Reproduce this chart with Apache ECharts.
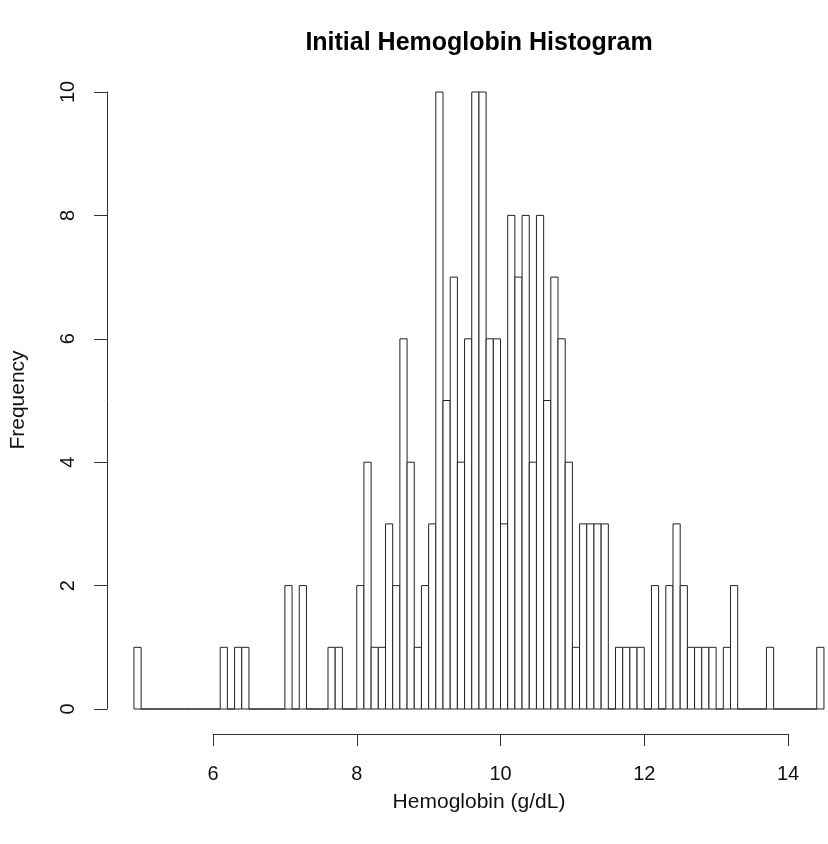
<!DOCTYPE html>
<html>
<head>
<meta charset="utf-8">
<script src="https://cdn.jsdelivr.net/npm/echarts@6/dist/echarts.min.js"></script>
<style>
  html, body { margin: 0; padding: 0; background: #fff; }
  #chart { width: 828px; height: 844px; }
</style>
</head>
<body>
<div id="chart"></div>
<script>
// Histogram bin lower edges (g/dL), each bin 0.1 wide
const binWidth = 0.1;
const binStarts = [
  4.9, 5.0, 5.1, 5.2, 5.3, 5.4, 5.5, 5.6, 5.7, 5.8, 5.9, 6.0,
  6.1, 6.2, 6.3, 6.4, 6.5, 6.6, 6.7, 6.8, 6.9, 7.0, 7.1, 7.2,
  7.3, 7.4, 7.5, 7.6, 7.7, 7.8, 7.9, 8.0, 8.1, 8.2, 8.3, 8.4,
  8.5, 8.6, 8.7, 8.8, 8.9, 9.0, 9.1, 9.2, 9.3, 9.4, 9.5, 9.6,
  9.7, 9.8, 9.9, 10.0, 10.1, 10.2, 10.3, 10.4, 10.5, 10.6, 10.7, 10.8,
  10.9, 11.0, 11.1, 11.2, 11.3, 11.4, 11.5, 11.6, 11.7, 11.8, 11.9, 12.0,
  12.1, 12.2, 12.3, 12.4, 12.5, 12.6, 12.7, 12.8, 12.9, 13.0, 13.1, 13.2,
  13.3, 13.4, 13.5, 13.6, 13.7, 13.8, 13.9, 14.0, 14.1, 14.2, 14.3, 14.4
];
// Frequency in each bin
const frequencies = [
  1, 0, 0, 0, 0, 0, 0, 0, 0, 0, 0, 0,
  1, 0, 1, 1, 0, 0, 0, 0, 0, 2, 0, 2,
  0, 0, 0, 1, 1, 0, 0, 2, 4, 1, 1, 3,
  2, 6, 4, 1, 2, 3, 10, 5, 7, 4, 6, 10,
  10, 6, 6, 3, 8, 7, 8, 4, 8, 5, 7, 6,
  4, 1, 3, 3, 3, 3, 0, 1, 1, 1, 1, 0,
  2, 0, 2, 3, 2, 1, 1, 1, 1, 0, 1, 2,
  0, 0, 0, 0, 1, 0, 0, 0, 0, 0, 0, 1
];
const xTicks = [6, 8, 10, 12, 14];
const yTicks = [0, 2, 4, 6, 8, 10];

const titleText = 'Initial Hemoglobin Histogram';
const xName = 'Hemoglobin (g/dL)';
const yName = 'Frequency';

const data = binStarts.map((s, i) => [s, +(s + binWidth).toFixed(1), frequencies[i]]);

const FONT = '"Liberation Sans", Arial, Helvetica, sans-serif';
const chart = echarts.init(document.getElementById('chart'), null, { renderer: 'canvas' });

chart.setOption({
  backgroundColor: '#ffffff',
  animation: false,
  grid: { left: 213, top: 92, width: 575, height: 617, containLabel: false },
  xAxis: {
    type: 'value',
    min: xTicks[0], max: xTicks[xTicks.length - 1], interval: 2,
    offset: 25,
    axisLine: { show: true, onZero: false, lineStyle: { color: '#333', width: 1 } },
    axisTick: { show: true, inside: false, length: 12, lineStyle: { color: '#333' } },
    axisLabel: { show: true, margin: 30, fontSize: 20, color: '#111', fontFamily: FONT },
    splitLine: { show: false }
  },
  yAxis: {
    type: 'value',
    min: yTicks[0], max: yTicks[yTicks.length - 1], interval: 2,
    offset: 106,
    axisLine: { show: true, onZero: false, lineStyle: { color: '#333', width: 1 } },
    axisTick: { show: true, inside: false, length: 13, lineStyle: { color: '#333' } },
    axisLabel: { show: true, rotate: 90, margin: 29, fontSize: 20, color: '#111', fontFamily: FONT },
    splitLine: { show: false }
  },
  series: [{
    type: 'custom',
    clip: false,
    data: data,
    renderItem: function (params, api) {
      const p0 = api.coord([api.value(0), 0]);
      const p1 = api.coord([api.value(1), api.value(2)]);
      return {
        type: 'rect',
        shape: { x: p0[0], y: p1[1], width: p1[0] - p0[0], height: p0[1] - p1[1] },
        style: { fill: '#ffffff', stroke: '#222', lineWidth: 1 }
      };
    }
  }],
  graphic: [
    { type: 'text', x: 479, y: 43, style: { text: titleText, font: 'bold 25px ' + FONT, fill: '#000', textAlign: 'center', textVerticalAlign: 'middle' } },
    { type: 'text', x: 479, y: 802, style: { text: xName, font: '21px ' + FONT, fill: '#111', textAlign: 'center', textVerticalAlign: 'middle' } },
    { type: 'text', x: 18, y: 400, rotation: Math.PI / 2, style: { text: yName, font: '21px ' + FONT, fill: '#111', textAlign: 'center', textVerticalAlign: 'middle' } }
  ]
});
</script>
</body>
</html>
